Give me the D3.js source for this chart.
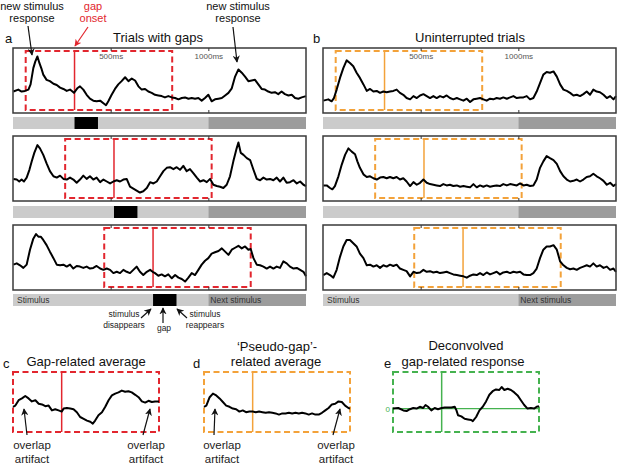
<!DOCTYPE html>
<html>
<head>
<meta charset="utf-8">
<script src="https://cdn.jsdelivr.net/npm/d3@7"></script>
<style>
  body { margin: 0; background: #fff; }
  svg { display: block; font-family: "Liberation Sans", Arial, sans-serif; }
</style>
</head>
<body>
<svg id="chart" width="617" height="466"></svg>
<script>
// ---- data (time in ms, amplitude in arbitrary units) ----
const tickTimes = [500, 1000];
const tickLabels = ['500ms', '1000ms'];
const gapOnsets = [315, 517, 717];
const gapDuration = 120;
const nextStimulusOnset = 1000;
const trialDuration = 1500;
const windowStart = -250;
const windowEnd = 500;

const gapTrial1 = [[2,3.3],[27,3.6],[44,3.3],[61,3.4],[79,3.6],[90,4.4],[104,6.9],[114,7.9],[125,8.7],[135,7.7],[147,6.7],[155,5.9],[172,5.1],[189,4.9],[207,4.5],[224,4.3],[241,3.9],[258,3.7],[275,3.4],[292,3.6],[312,3.1],[329,3.8],[343,4.1],[360,3.6],[377,2.8],[394,2.2],[411,1.9],[428,1.8],[446,1.9],[463,1.5],[476,1.2],[488,1.8],[505,2.8],[522,3.7],[539,4.4],[556,4.9],[574,5.5],[591,4.9],[608,5.3],[625,5.0],[642,4.1],[659,3.6],[676,3.7],[693,3.3],[710,3.1],[727,2.8],[744,2.7],[761,2.6],[778,2.4],[795,2.6],[813,2.4],[830,2.3],[847,2.1],[864,2.3],[881,2.4],[898,2.2],[915,2.3],[932,2.2],[949,2.3],[966,1.9],[983,2.3],[1000,2.8],[1017,1.8],[1034,2.1],[1052,2.2],[1069,2.3],[1086,2.7],[1103,3.1],[1120,3.8],[1137,5.6],[1154,6.7],[1171,6.2],[1188,5.6],[1205,4.9],[1222,5.0],[1239,5.1],[1256,4.4],[1273,3.7],[1290,3.6],[1307,3.3],[1324,3.1],[1341,3.2],[1358,2.9],[1375,3.3],[1392,2.9],[1410,2.7],[1427,2.8],[1444,2.3],[1461,2.2],[1478,2.4],[1500,2.6]];

const gapTrial2 = [[2,3.4],[19,3.3],[32,3.0],[44,3.3],[56,3.0],[70,3.6],[84,4.8],[96,6.1],[109,7.4],[125,8.6],[138,8.1],[155,7.1],[172,5.8],[189,4.6],[207,3.8],[224,3.6],[241,3.9],[258,3.4],[275,3.3],[292,3.6],[309,3.3],[326,2.8],[343,3.3],[360,3.9],[377,3.4],[394,3.8],[411,3.3],[428,3.6],[446,2.9],[463,3.3],[480,3.0],[497,2.7],[514,3.0],[531,3.2],[548,3.0],[565,3.3],[582,3.4],[599,2.2],[616,1.9],[633,1.6],[650,1.3],[667,1.5],[685,2.0],[702,2.9],[719,2.7],[736,3.0],[753,3.8],[770,4.6],[787,5.1],[804,5.2],[821,4.9],[838,5.2],[855,4.8],[872,5.4],[889,4.6],[906,4.9],[923,4.3],[941,3.6],[958,3.0],[975,3.2],[992,2.9],[1009,3.4],[1026,2.5],[1043,2.3],[1060,2.2],[1077,2.0],[1094,2.5],[1111,3.8],[1128,6.1],[1145,8.1],[1154,9.0],[1166,7.4],[1180,7.1],[1197,6.6],[1214,6.3],[1231,4.8],[1248,3.4],[1265,3.2],[1282,3.6],[1299,3.3],[1316,3.4],[1333,3.2],[1350,3.6],[1367,3.0],[1384,3.6],[1401,2.8],[1418,2.9],[1436,3.2],[1453,2.7],[1470,3.0],[1487,2.5],[1500,2.3]];

const gapTrial3 = [[2,3.9],[19,4.1],[36,3.8],[53,3.4],[70,3.9],[87,6.2],[104,7.9],[118,8.6],[130,8.2],[142,8.2],[155,7.7],[172,6.9],[189,5.9],[207,4.9],[224,3.9],[241,3.8],[258,3.9],[275,3.6],[292,3.9],[309,3.3],[326,3.7],[343,3.6],[360,3.4],[377,3.6],[394,3.3],[411,3.4],[428,3.7],[446,3.3],[463,3.1],[480,3.3],[497,3.1],[514,2.6],[531,2.8],[548,2.6],[565,3.1],[582,2.8],[599,2.6],[616,3.1],[633,3.6],[650,2.8],[667,2.3],[685,2.8],[702,3.1],[715,2.8],[727,2.6],[744,2.2],[761,2.4],[778,2.1],[795,2.4],[813,1.8],[830,2.3],[847,1.9],[864,1.7],[881,1.3],[898,1.9],[915,2.6],[932,2.3],[949,3.1],[966,3.9],[983,4.5],[1000,4.9],[1017,5.6],[1034,5.8],[1052,6.0],[1069,6.4],[1086,5.9],[1103,5.4],[1120,6.2],[1137,6.5],[1154,6.8],[1171,6.4],[1188,6.7],[1205,6.2],[1217,6.3],[1231,4.9],[1248,3.9],[1265,3.8],[1282,3.6],[1299,3.3],[1316,3.6],[1333,3.3],[1350,3.6],[1367,3.4],[1384,4.4],[1401,4.1],[1418,3.6],[1436,3.3],[1453,3.4],[1470,3.1],[1487,2.8],[1500,2.1]];

const plainTrial1 = [[2,1.9],[27,2.1],[44,1.8],[56,2.3],[70,3.6],[87,5.4],[104,6.9],[121,8.1],[138,7.7],[155,7.2],[172,6.2],[189,5.4],[207,4.4],[224,3.4],[241,3.7],[258,3.3],[275,3.4],[292,3.1],[309,3.3],[326,3.2],[343,3.3],[360,3.4],[377,3.6],[394,3.1],[411,2.8],[428,2.3],[446,2.1],[463,2.6],[480,2.3],[497,2.7],[514,2.9],[531,2.6],[548,2.3],[565,2.6],[582,2.3],[599,2.6],[616,2.4],[633,2.7],[650,2.3],[667,2.1],[685,2.3],[702,2.1],[719,1.9],[736,2.2],[753,1.7],[770,2.1],[787,2.2],[804,2.3],[821,2.1],[838,1.9],[855,2.2],[872,2.1],[889,2.3],[906,2.2],[923,2.4],[941,2.2],[958,2.4],[975,2.6],[992,2.3],[1009,2.4],[1026,2.4],[1043,2.6],[1060,2.1],[1077,2.3],[1094,3.3],[1111,4.6],[1128,5.9],[1145,6.3],[1162,6.2],[1180,6.4],[1197,5.6],[1214,4.4],[1231,3.6],[1248,3.4],[1265,3.1],[1282,2.7],[1299,2.8],[1316,2.6],[1333,2.9],[1350,3.3],[1367,2.8],[1384,3.6],[1401,3.3],[1418,3.2],[1436,2.8],[1453,2.3],[1470,2.6],[1487,2.1],[1500,2.6]];

const plainTrial2 = [[2,2.4],[19,2.4],[36,2.0],[48,1.8],[61,2.3],[79,3.8],[96,5.6],[113,7.1],[130,8.1],[147,7.6],[164,7.2],[176,6.1],[189,5.1],[207,4.1],[224,3.7],[241,3.8],[258,3.5],[275,3.3],[292,3.6],[309,3.7],[326,3.5],[343,3.7],[360,3.5],[377,3.7],[394,3.3],[411,3.5],[428,3.0],[446,2.3],[463,2.9],[480,2.5],[497,2.8],[514,3.3],[531,2.8],[548,2.6],[565,2.5],[582,2.4],[599,2.3],[616,2.6],[633,2.4],[650,2.5],[667,2.3],[685,2.4],[702,2.2],[719,2.3],[736,2.2],[753,2.1],[770,2.6],[787,2.1],[804,2.4],[821,2.2],[838,2.4],[855,2.2],[872,2.3],[889,2.4],[906,2.3],[923,2.6],[941,2.4],[958,2.6],[975,2.5],[992,2.4],[1009,2.7],[1026,2.4],[1043,2.5],[1060,2.3],[1077,2.4],[1094,3.3],[1111,5.1],[1128,6.1],[1145,6.9],[1162,6.6],[1180,6.3],[1197,5.7],[1214,4.6],[1231,3.8],[1248,3.3],[1265,3.0],[1282,3.1],[1299,3.3],[1316,3.0],[1333,3.3],[1350,3.7],[1367,3.8],[1384,4.2],[1401,3.8],[1418,3.5],[1436,3.1],[1453,2.5],[1470,2.8],[1487,2.3],[1500,2.6]];

const plainTrial3 = [[2,2.3],[19,2.6],[36,2.3],[53,1.9],[70,3.1],[87,5.1],[104,6.7],[121,7.7],[138,7.7],[155,7.2],[172,6.7],[189,5.6],[207,4.9],[224,3.8],[241,3.9],[258,3.6],[275,3.8],[292,3.4],[309,3.8],[326,3.6],[343,3.9],[360,3.7],[377,3.9],[394,3.3],[411,3.1],[428,2.9],[446,2.1],[463,2.8],[480,2.6],[497,2.7],[514,3.1],[531,2.8],[548,2.9],[565,2.7],[582,2.8],[599,2.6],[616,2.7],[633,2.8],[650,2.6],[667,2.4],[685,2.3],[702,2.2],[719,2.1],[736,1.9],[753,2.2],[770,2.4],[787,2.3],[804,2.6],[821,2.3],[838,2.7],[855,2.4],[872,2.6],[889,2.8],[906,2.4],[923,2.7],[941,2.8],[958,2.6],[975,2.8],[992,2.7],[1009,2.8],[1026,2.4],[1043,2.3],[1060,2.3],[1077,2.6],[1094,3.3],[1111,4.9],[1128,6.2],[1145,6.7],[1162,6.7],[1180,6.9],[1197,6.2],[1214,4.4],[1231,3.8],[1248,3.4],[1265,3.2],[1282,3.3],[1299,3.1],[1316,3.4],[1333,3.6],[1350,3.8],[1367,3.6],[1384,4.1],[1401,3.6],[1418,3.8],[1436,3.4],[1453,3.6],[1470,3.1],[1487,3.3],[1500,2.8]];

// averages, time relative to gap onset
const gapAverage = [[-250,4.2],[-238,4.4],[-221,5.3],[-204,5.6],[-187,6.0],[-170,5.6],[-153,5.1],[-135,5.3],[-118,4.7],[-101,4.6],[-84,4.3],[-67,4.4],[-50,3.6],[-33,3.8],[-16,3.6],[0,3.4],[10,3.9],[27,4.0],[44,3.9],[61,3.8],[78,3.3],[95,2.5],[113,2.2],[130,1.9],[147,1.7],[160,1.4],[172,1.9],[189,2.8],[207,3.3],[224,4.2],[241,5.3],[258,6.1],[275,6.4],[292,6.6],[309,6.9],[326,6.7],[343,6.8],[360,6.6],[378,6.2],[395,5.8],[412,5.1],[429,4.9],[446,5.2],[463,5.0],[480,5.1],[500,5.1]];

const pseudoGapAverage = [[-250,4.2],[-238,4.4],[-221,5.8],[-204,6.4],[-187,6.1],[-170,5.6],[-153,5.0],[-136,4.4],[-119,4.2],[-102,3.9],[-85,3.8],[-68,3.4],[-51,3.6],[-34,3.3],[-17,3.4],[0,3.4],[16,3.3],[33,3.4],[50,3.3],[67,3.2],[84,3.3],[101,3.2],[118,3.1],[135,2.9],[152,3.1],[169,3.1],[186,3.2],[203,3.1],[220,3.2],[237,3.1],[254,3.2],[271,3.1],[288,2.9],[305,3.1],[322,2.9],[339,2.9],[356,3.2],[373,3.6],[390,4.0],[407,4.6],[424,4.7],[441,5.1],[458,5.0],[475,4.4],[492,4.0],[500,3.9]];

const deconvolved = [[-250,0.0],[-223,0.1],[-197,-0.3],[-180,-0.4],[-163,-0.1],[-146,0.1],[-129,0.0],[-112,0.3],[-95,0.1],[-83,0.6],[-70,0.3],[-53,-0.3],[-36,0.1],[-19,-0.1],[0,0.1],[16,0.2],[33,0.2],[50,0.2],[67,0.3],[76,-0.3],[84,-1.1],[101,-1.3],[118,-1.7],[135,-1.8],[152,-1.9],[160,-2.1],[177,-1.4],[194,-0.3],[211,0.3],[228,1.2],[245,2.3],[262,2.9],[279,3.2],[296,3.1],[308,3.6],[322,3.1],[339,3.3],[356,3.1],[373,2.7],[390,2.2],[407,1.4],[424,0.6],[441,0.0],[458,0.1],[475,0.0],[488,0.3],[500,0.4]];

const gapTrials = [gapTrial1, gapTrial2, gapTrial3];
const plainTrials = [plainTrial1, plainTrial2, plainTrial3];

// ---- layout / style ----
const RED = '#e2262e', ORANGE = '#f3a23a', GREEN = '#45b24f';
const LIGHT = '#cbcbcb', DARK = '#9c9c9c';
const panelX = { a: 13, b: 323 };
const panelW = 293;
const rowTop = [48, 136, 225];
const rowH = 65;
const barTop = [117, 206, 294];
const barH = 12;

const svg = d3.select('#chart');

const defs = svg.append('defs');
function marker(id, color) {
  defs.append('marker')
    .attr('id', id)
    .attr('viewBox', '0 0 10 10')
    .attr('refX', 9).attr('refY', 5)
    .attr('markerWidth', 6).attr('markerHeight', 6)
    .attr('orient', 'auto')
    .append('path')
    .attr('d', 'M0,0 L10,5 L0,10 L3,5 Z')
    .style('fill', color);
}
marker('arrow-black', '#111');
marker('arrow-red', RED);

function text(g, x, y, str, opts = {}) {
  return g.append('text')
    .attr('x', x).attr('y', y)
    .attr('text-anchor', opts.anchor || 'middle')
    .style('font-size', (opts.size || 11) + 'px')
    .style('fill', opts.color || '#111')
    .text(str);
}

function arrow(x1, y1, x2, y2, color) {
  svg.append('line')
    .attr('x1', x1).attr('y1', y1).attr('x2', x2).attr('y2', y2)
    .style('stroke', color === 'red' ? RED : '#111')
    .style('stroke-width', 1.2)
    .attr('marker-end', color === 'red' ? 'url(#arrow-red)' : 'url(#arrow-black)');
}

const trace = (x, y) => d3.line().x(d => x(d[0])).y(d => y(d[1]));

// ---- trial rows (panels a and b) ----
function drawTrialPanel(key, trials, boxColor, showGap) {
  const x = d3.scaleLinear().domain([0, trialDuration]).range([panelX[key], panelX[key] + panelW]);

  trials.forEach((trial, i) => {
    const top = rowTop[i];
    const y = d3.scaleLinear().domain([0, 10]).range([top + rowH, top]);
    const g = svg.append('g').attr('class', `row row-${key}-${i}`);

    // stimulus bar
    const bar = g.append('g').attr('class', 'stim-bar');
    bar.append('rect')
      .attr('x', x(0)).attr('y', barTop[i])
      .attr('width', x(nextStimulusOnset) - x(0)).attr('height', barH)
      .style('fill', LIGHT);
    bar.append('rect')
      .attr('x', x(nextStimulusOnset)).attr('y', barTop[i])
      .attr('width', x(trialDuration) - x(nextStimulusOnset)).attr('height', barH)
      .style('fill', DARK);
    if (showGap) {
      bar.append('rect')
        .attr('x', x(gapOnsets[i])).attr('y', barTop[i])
        .attr('width', x(gapOnsets[i] + gapDuration) - x(gapOnsets[i])).attr('height', barH)
        .style('fill', '#000');
    }
    if (i === trials.length - 1) {
      text(bar, x(0) + 4, barTop[i] + 9, 'Stimulus', { anchor: 'start', size: 8.5, color: '#333' });
      text(bar, x(nextStimulusOnset) + 2, barTop[i] + 9, 'Next stimulus', { anchor: 'start', size: 8.5, color: '#333' });
    }

    // dashed window around the (pseudo-)gap onset
    const onset = gapOnsets[i];
    g.append('rect')
      .attr('x', x(onset + windowStart)).attr('y', top + 3)
      .attr('width', x(onset + windowEnd) - x(onset + windowStart))
      .attr('height', rowH - 6)
      .style('fill', 'none')
      .style('stroke', boxColor)
      .style('stroke-width', 2)
      .style('stroke-dasharray', '6,3.5');
    g.append('line')
      .attr('x1', x(onset)).attr('x2', x(onset))
      .attr('y1', top + 3).attr('y2', top + rowH - 3)
      .style('stroke', boxColor)
      .style('stroke-width', 1.5);

    // ticks at top (with labels on first row) and bottom
    const topAxis = d3.axisBottom(x).tickValues(tickTimes).tickSize(3).tickPadding(2)
      .tickFormat((d, j) => (i === 0 ? tickLabels[j] : ''));
    const ta = g.append('g').attr('transform', `translate(0,${top})`).call(topAxis);
    ta.select('.domain').remove();
    ta.selectAll('line').style('stroke', '#333');
    ta.selectAll('text').style('font-size', '8px').style('fill', '#555')
      .style('font-family', '"Liberation Sans", Arial, sans-serif');

    const bottomAxis = d3.axisTop(x).tickValues(tickTimes).tickSize(3).tickFormat('');
    const ba = g.append('g').attr('transform', `translate(0,${top + rowH})`).call(bottomAxis);
    ba.select('.domain').remove();
    ba.selectAll('line').style('stroke', '#333');

    // trace
    g.append('path')
      .datum(trial)
      .attr('d', trace(x, y))
      .style('fill', 'none')
      .style('stroke', '#000')
      .style('stroke-width', 2)
      .style('stroke-linejoin', 'round');

    // frame
    g.append('rect')
      .attr('x', x(0)).attr('y', top)
      .attr('width', panelW).attr('height', rowH)
      .style('fill', 'none')
      .style('stroke', '#3a3a3a')
      .style('stroke-width', 1.5);
  });
}

drawTrialPanel('a', gapTrials, RED, true);
drawTrialPanel('b', plainTrials, ORANGE, false);

// panel titles
text(svg, 5, 43, 'a', { anchor: 'start', size: 13 });
text(svg, 158, 42, 'Trials with gaps', { size: 13 });
text(svg, 313, 43, 'b', { anchor: 'start', size: 13 });
text(svg, 470, 42, 'Uninterrupted trials', { size: 13 });

// top annotations
text(svg, 32, 10, 'new stimulus', { size: 11 });
text(svg, 32, 22, 'response', { size: 11 });
arrow(28, 26, 32, 55);
text(svg, 93, 10, 'gap', { size: 11, color: RED });
text(svg, 93, 22, 'onset', { size: 11, color: RED });
arrow(88, 27, 75, 46, 'red');
text(svg, 238, 10, 'new stimulus', { size: 11 });
text(svg, 238, 22, 'response', { size: 11 });
arrow(233, 27, 237, 62);

// gap labels under panel a, row 3
text(svg, 124, 317, 'stimulus', { size: 8.5, color: '#222' });
text(svg, 124, 328, 'disappears', { size: 8.5, color: '#222' });
text(svg, 164, 331, 'gap', { size: 8.5, color: '#222' });
text(svg, 205, 317, 'stimulus', { size: 8.5, color: '#222' });
text(svg, 205, 328, 'reappears', { size: 8.5, color: '#222' });
arrow(141, 318, 151, 309);
arrow(163, 323, 163, 308);
arrow(187, 318, 177, 309);

// ---- averaged panels (c, d, e) ----
const avgTop = 372, avgH = 60, avgW = 146;

function drawAverage(x0, series, color, yDomain, zeroLine) {
  const x = d3.scaleLinear().domain([windowStart, windowEnd]).range([x0, x0 + avgW]);
  const y = d3.scaleLinear().domain(yDomain).range([avgTop + avgH, avgTop]);
  const g = svg.append('g');
  g.append('rect')
    .attr('x', x(windowStart)).attr('y', avgTop)
    .attr('width', avgW).attr('height', avgH)
    .style('fill', 'none')
    .style('stroke', color)
    .style('stroke-width', 2)
    .style('stroke-dasharray', '6,3.5');
  g.append('line')
    .attr('x1', x(0)).attr('x2', x(0))
    .attr('y1', avgTop).attr('y2', avgTop + avgH)
    .style('stroke', color).style('stroke-width', 1.5);
  if (zeroLine) {
    g.append('line')
      .attr('x1', x(windowStart)).attr('x2', x(windowEnd))
      .attr('y1', y(0)).attr('y2', y(0))
      .style('stroke', color).style('stroke-width', 1.3);
    text(g, x(windowStart) - 3, y(0) + 3, '0', { anchor: 'end', size: 8, color: color });
  }
  g.append('path')
    .datum(series)
    .attr('d', trace(x, y))
    .style('fill', 'none')
    .style('stroke', '#000')
    .style('stroke-width', 2)
    .style('stroke-linejoin', 'round');
}

drawAverage(13, gapAverage, RED, [0, 10], false);
drawAverage(204, pseudoGapAverage, ORANGE, [0, 10], false);
drawAverage(393, deconvolved, GREEN, [-3.9, 6.1], true);

text(svg, 3, 368, 'c', { anchor: 'start', size: 13 });
text(svg, 86, 366, 'Gap-related average', { size: 13 });
text(svg, 193, 368, 'd', { anchor: 'start', size: 13 });
text(svg, 277, 351, '\u2018Pseudo-gap\u2019-', { size: 13 });
text(svg, 276, 366, 'related average', { size: 13 });
text(svg, 384, 368, 'e', { anchor: 'start', size: 13 });
text(svg, 466, 350, 'Deconvolved', { size: 13 });
text(svg, 463, 366, 'gap-related response', { size: 13 });

// overlap artifact notes
[[32, 27, 435, 24, 409], [146, 143, 435, 150, 409], [222, 214, 435, 215, 409], [336, 333, 435, 340, 409]]
  .forEach(([cx, x1, y1, x2, y2]) => {
    text(svg, cx, 449, 'overlap', { size: 11.5, color: '#222' });
    text(svg, cx, 463, 'artifact', { size: 11.5, color: '#222' });
    arrow(x1, y1, x2, y2);
  });
</script>
</body>
</html>
